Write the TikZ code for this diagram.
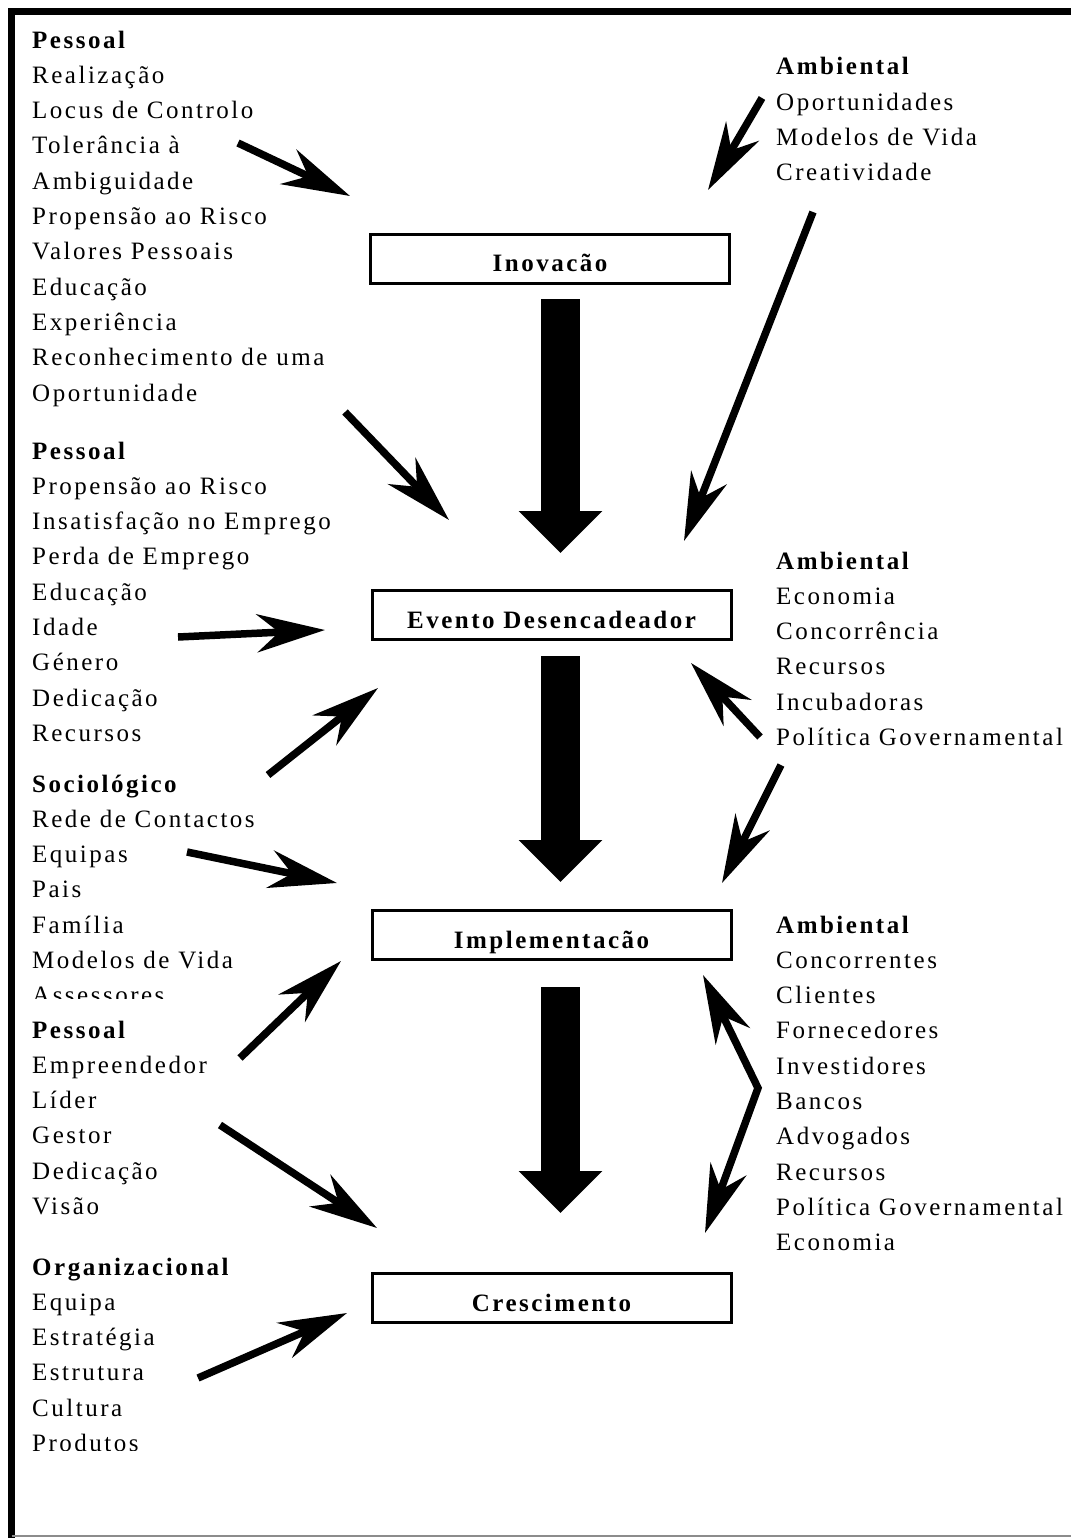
\documentclass[tikz,border=0pt]{standalone}
\usepackage{fontspec}
\setmainfont{Liberation Serif}[LetterSpace=10]
\usetikzlibrary{arrows.meta}

\begin{document}
\begin{tikzpicture}[x=1pt,y=-1pt,
  % multi-line factor lists are placed by the baseline of their last line
  factor/.style={anchor=base west, align=left, inner sep=0pt,
    font=\fontsize{25}{35.3}\selectfont},
  stage/.style={draw, line width=3pt, minimum width=359pt, minimum height=49pt,
    inner sep=0pt, font=\fontsize{25}{30}\selectfont\bfseries,
    text height=26pt, text depth=0pt},
  flow/.style={line width=39pt, -{Triangle[width=81pt,length=42pt]}},
  link/.style={line width=7.5pt, line join=miter, -{Stealth[length=68pt,width=38pt,inset=22pt]}},
  duallink/.style={line width=7.5pt, line join=miter,
    {Stealth[length=68pt,width=38pt,inset=22pt]}-{Stealth[length=68pt,width=38pt,inset=22pt]}}
]
\useasboundingbox (0,0) rectangle (1070,1538);

% frame
\draw[line width=6.5pt] (11.5,1545) -- (11.5,11.5) -- (1080,11.5);
\draw[black!45, line width=1.5pt] (11.5,1536) -- (1080,1536);

% stages
\node[stage] (inov) at (550,259) {Inovacão};
\node[stage] (evento) at (551.5,615) {Evento Desencadeador};
\node[stage] (impl) at (551.5,935) {Implementacão};
\node[stage] (cresc) at (551.5,1298) {Crescimento};

% main flow between stages
\coordinate (f1a) at (560.5,299);  \coordinate (f1b) at (560.5,553);
\coordinate (f2a) at (560.5,656);  \coordinate (f2b) at (560.5,882);
\coordinate (f3a) at (560.5,987);  \coordinate (f3b) at (560.5,1213);
\draw[flow] (f1a) -- (f1b);
\draw[flow] (f2a) -- (f2b);
\draw[flow] (f3a) -- (f3b);

% left-hand factors
\node[factor] (pes1) at (32,401) {\textbf{Pessoal}\\Realização\\Locus de Controlo\\Tolerância à\\Ambiguidade\\Propensão ao Risco\\Valores Pessoais\\Educação\\Experiência\\Reconhecimento de uma\\Oportunidade};
\node[factor] (pes2) at (32,741.4) {\textbf{Pessoal}\\Propensão ao Risco\\Insatisfação no Emprego\\Perda de Emprego\\Educação\\Idade\\Género\\Dedicação\\Recursos};
\begin{scope}
  \clip (0,760) rectangle (400,998);
  \node[factor] (socio) at (32,1003.8) {\textbf{Sociológico}\\Rede de Contactos\\Equipas\\Pais\\Família\\Modelos de Vida\\Assessores};
\end{scope}
\node[factor] (pes3) at (32,1214.5) {\textbf{Pessoal}\\Empreendedor\\Líder\\Gestor\\Dedicação\\Visão};
\begin{scope}
  \clip (0,1240) rectangle (400,1450);
  \node[factor] (org) at (32,1451.5) {\textbf{Organizacional}\\Equipa\\Estratégia\\Estrutura\\Cultura\\Produtos};
\end{scope}

% right-hand factors
\node[factor] (amb1) at (776,180.9) {\textbf{Ambiental}\\Oportunidades\\Modelos de Vida\\Creatividade};
\node[factor] (amb2) at (776,745.5) {\textbf{Ambiental}\\Economia\\Concorrência\\Recursos\\Incubadoras\\Política Governamental};
\node[factor] (amb3) at (776,1250.7) {\textbf{Ambiental}\\Concorrentes\\Clientes\\Fornecedores\\Investidores\\Bancos\\Advogados\\Recursos\\Política Governamental\\Economia};

% influence arrows
\coordinate (a1s) at (238,143);  \coordinate (a1e) at (350,196);
\coordinate (a2s) at (762,98);   \coordinate (a2e) at (708,190);
\coordinate (a3s) at (813,212);  \coordinate (a3e) at (684,541);
\coordinate (a4s) at (345,412);  \coordinate (a4e) at (449,520);
\coordinate (a5s) at (178,637);  \coordinate (a5e) at (325,630);
\coordinate (a6s) at (268,775);  \coordinate (a6e) at (378,688);
\coordinate (a7s) at (760,737);  \coordinate (a7e) at (691,663);
\coordinate (a8s) at (781,765);  \coordinate (a8e) at (722,883);
\coordinate (a9s) at (187,852);  \coordinate (a9e) at (337,883);
\coordinate (a10s) at (240,1058); \coordinate (a10e) at (341,961);
\coordinate (a11u) at (703,975);  \coordinate (a11m) at (758,1088); \coordinate (a11d) at (705,1233);
\coordinate (a12s) at (220,1125); \coordinate (a12e) at (377,1228);
\coordinate (a13s) at (198,1378); \coordinate (a13e) at (347,1313);

\draw[link] (a1s) -- (a1e);
\draw[link] (a2s) -- (a2e);
\draw[link] (a3s) -- (a3e);
\draw[link] (a4s) -- (a4e);
\draw[link] (a5s) -- (a5e);
\draw[link] (a6s) -- (a6e);
\draw[link] (a7s) -- (a7e);
\draw[link] (a8s) -- (a8e);
\draw[link] (a9s) -- (a9e);
\draw[link] (a10s) -- (a10e);
\draw[duallink] (a11u) -- (a11m) -- (a11d);
\draw[link] (a12s) -- (a12e);
\draw[link] (a13s) -- (a13e);
\end{tikzpicture}
\end{document}
